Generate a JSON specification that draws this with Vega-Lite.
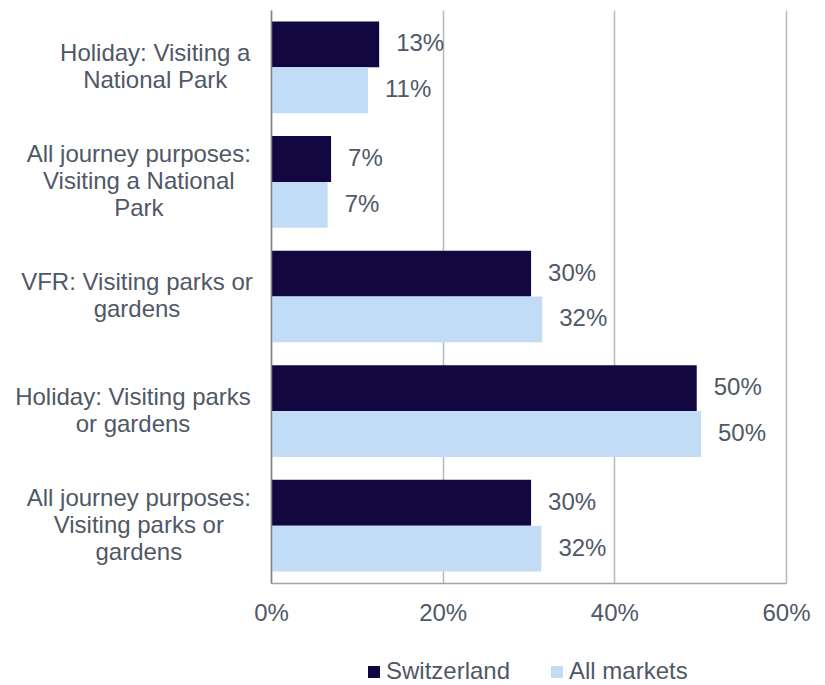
{
  "$schema": "https://vega.github.io/schema/vega-lite/v6.json",
  "width": 515,
  "height": 573,
  "autosize": {"type": "none"},
  "padding": {"left": 271, "top": 10, "right": 39, "bottom": 102},
  "background": "white",
  "config": {"view": {"stroke": null}, "font": "Liberation Sans"},
  "data": {
    "values": [
      {"purpose": "Holiday: Visiting a|National Park", "market": "Switzerland", "share": 0.126},
      {"purpose": "Holiday: Visiting a|National Park", "market": "All markets", "share": 0.113},
      {"purpose": "All journey purposes:|Visiting a National|Park", "market": "Switzerland", "share": 0.070},
      {"purpose": "All journey purposes:|Visiting a National|Park", "market": "All markets", "share": 0.066},
      {"purpose": "VFR: Visiting parks or|gardens", "market": "Switzerland", "share": 0.303},
      {"purpose": "VFR: Visiting parks or|gardens", "market": "All markets", "share": 0.316},
      {"purpose": "Holiday: Visiting parks|or gardens", "market": "Switzerland", "share": 0.496},
      {"purpose": "Holiday: Visiting parks|or gardens", "market": "All markets", "share": 0.501},
      {"purpose": "All journey purposes:|Visiting parks or|gardens", "market": "Switzerland", "share": 0.303},
      {"purpose": "All journey purposes:|Visiting parks or|gardens", "market": "All markets", "share": 0.315}
    ]
  },
  "encoding": {
    "y": {
      "field": "purpose",
      "type": "nominal",
      "sort": [
        "Holiday: Visiting a|National Park",
        "All journey purposes:|Visiting a National|Park",
        "VFR: Visiting parks or|gardens",
        "Holiday: Visiting parks|or gardens",
        "All journey purposes:|Visiting parks or|gardens"
      ],
      "scale": {"paddingInner": 0.2, "paddingOuter": 0.1},
      "axis": {
        "title": null,
        "zindex": 1,
        "domainColor": "#858585",
        "domainWidth": 1.5,
        "ticks": false,
        "tickSize": 0,
        "grid": false,
        "labelFontSize": 24,
        "labelColor": "#505866",
        "labelAlign": "center",
        "labelBaseline": "middle",
        "labelLineHeight": 27,
        "labelLimit": 500,
        "labelExpr": "split(datum.value, '|')",
        "labelOffset": {
          "condition": {"test": "length(split(datum.value, '|')) === 3", "value": -27},
          "value": -13.5
        },
        "labelPadding": {
          "condition": [
            {"test": "datum.value === 'Holiday: Visiting a|National Park'", "value": 116.3},
            {"test": "datum.value === 'VFR: Visiting parks or|gardens'", "value": 134.5},
            {"test": "datum.value === 'Holiday: Visiting parks|or gardens'", "value": 138.5}
          ],
          "value": 132.7
        }
      }
    },
    "yOffset": {"field": "market", "sort": ["Switzerland", "All markets"]},
    "x": {
      "field": "share",
      "type": "quantitative",
      "scale": {"domain": [0, 0.6]},
      "axis": {
        "title": null,
        "format": ".0%",
        "values": [0, 0.2, 0.4, 0.6],
        "grid": true,
        "gridColor": "#b1bcbc",
        "gridWidth": 1.5,
        "domainColor": "#a3a3a3",
        "domainWidth": 1.5,
        "ticks": false,
        "labelFontSize": 24,
        "labelColor": "#505866",
        "labelPadding": 18,
        "labelFlush": false,
        "labelOverlap": false
      }
    }
  },
  "layer": [
    {
      "mark": {"type": "bar"},
      "encoding": {
        "color": {
          "field": "market",
          "type": "nominal",
          "scale": {"domain": ["Switzerland", "All markets"], "range": ["#130742", "#c2dcf6"]},
          "legend": {
            "title": null,
            "orient": "none",
            "legendX": 91,
            "legendY": 650,
            "direction": "horizontal",
            "padding": 0,
            "symbolType": "square",
            "symbolSize": 144,
            "symbolStrokeWidth": 0,
            "labelFontSize": 24,
            "labelColor": "#505866",
            "labelOffset": 0,
            "columnPadding": 34,
            "labelLimit": 300
          }
        }
      }
    },
    {
      "mark": {"type": "text", "align": "left", "baseline": "middle", "dx": 17, "fontSize": 24, "color": "#505866"},
      "encoding": {"text": {"field": "share", "type": "quantitative", "format": ".0%"}}
    }
  ]
}
